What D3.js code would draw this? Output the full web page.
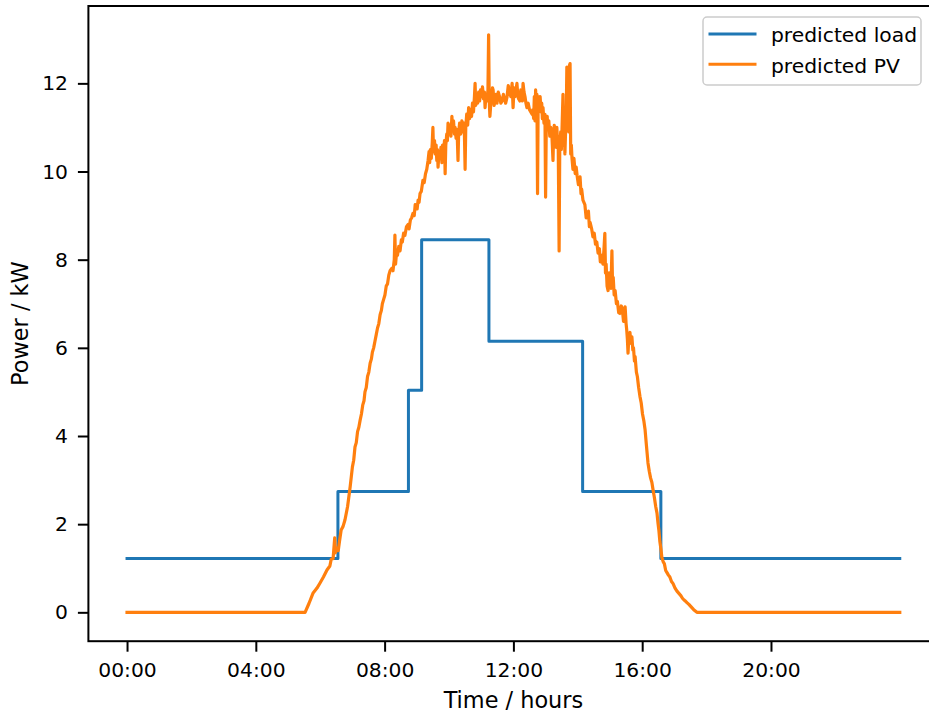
<!DOCTYPE html>
<html>
<head>
<meta charset="utf-8">
<script src="https://cdn.jsdelivr.net/npm/d3@7"></script>
<style>
  html, body { margin: 0; padding: 0; background: #fff; }
  svg { display: block; font-family: "DejaVu Sans", sans-serif; }
</style>
</head>
<body>
<svg id="chart" width="929" height="717"></svg>
<script>
// ---- data ----
const xTickHours = [0, 4, 8, 12, 16, 20];
const xTickLabels = ["00:00", "04:00", "08:00", "12:00", "16:00", "20:00"];
const yTicks = [0, 2, 4, 6, 8, 10, 12];
const seriesNames = ["predicted load", "predicted PV"];
const seriesColors = ["#1f77b4", "#ff7f0e"];

// predicted load (step function, value holds until next hour)
const loadHours = [0, 6.55, 8.74, 9.15, 11.24, 14.15, 16.58, 24];
const loadKW    = [1.22, 2.74, 5.04, 8.45, 6.15, 2.74, 1.22, 1.22];

// predicted PV readings: [hour, kW]
const pvMorning = [
  [0, 0], [5.53, 0], [5.65, 0.20], [5.78, 0.44], [5.90, 0.55], [5.99, 0.66], [6.10, 0.80], [6.21, 0.96], [6.30, 1.05], [6.34, 1.20],
  [6.40, 1.22], [6.45, 1.69], [6.47, 1.35], [6.52, 1.45], [6.56, 1.40], [6.60, 1.62], [6.65, 1.87], [6.71, 1.95], [6.77, 2.10], [6.85, 2.40],
  [6.93, 2.85], [7.00, 3.30], [7.04, 3.45], [7.08, 3.75], [7.12, 3.85], [7.16, 4.10], [7.20, 4.20], [7.24, 4.36], [7.28, 4.50], [7.32, 4.70],
  [7.36, 4.80], [7.39, 5.00], [7.43, 5.10], [7.47, 5.35], [7.51, 5.45], [7.55, 5.65], [7.59, 5.75], [7.62, 5.90], [7.66, 6.00], [7.70, 6.15],
  [7.74, 6.30], [7.78, 6.45], [7.82, 6.55], [7.86, 6.75], [7.90, 6.85], [7.93, 7.00], [7.97, 7.10], [8.01, 7.20], [8.05, 7.40], [8.09, 7.45],
  [8.13, 7.65], [8.17, 7.75], [8.22, 7.80], [8.26, 7.75], [8.30, 8.00], [8.32, 8.56], [8.34, 7.90], [8.37, 8.15], [8.40, 8.10], [8.44, 8.30],
  [8.48, 8.20], [8.52, 8.45], [8.55, 8.40], [8.59, 8.60], [8.63, 8.55], [8.68, 8.75], [8.73, 8.80], [8.76, 8.70], [8.80, 8.90], [8.84, 8.95],
  [8.88, 9.05], [8.92, 9.00], [8.95, 9.25], [8.98, 9.15], [9.01, 9.15], [9.04, 9.35], [9.07, 9.30], [9.10, 9.50], [9.14, 9.55], [9.19, 9.80],
  [9.23, 9.75], [9.27, 9.95], [9.31, 10.05]
];
const pvLateMorning = [
  [9.35, 10.25], [9.38, 10.45], [9.40, 10.20], [9.42, 10.50], [9.45, 10.30], [9.48, 10.65], [9.50, 11.00], [9.52, 10.45], [9.55, 10.70], [9.57, 10.40],
  [9.60, 10.60], [9.62, 10.25], [9.64, 10.50], [9.66, 10.10], [9.69, 10.45], [9.72, 10.30], [9.75, 10.55], [9.78, 10.20], [9.80, 10.60], [9.83, 10.40],
  [9.86, 10.70], [9.88, 9.95], [9.90, 10.60], [9.93, 10.85], [9.95, 10.70], [9.97, 11.10], [10.00, 10.85], [10.03, 11.05], [10.06, 10.80], [10.09, 11.25],
  [10.11, 10.95], [10.14, 11.15], [10.17, 10.85], [10.19, 11.00], [10.22, 10.75], [10.25, 10.95], [10.28, 10.25], [10.30, 10.90], [10.33, 11.10], [10.36, 10.85],
  [10.40, 11.15], [10.43, 10.90], [10.46, 11.10], [10.48, 10.80], [10.50, 10.05], [10.52, 11.00], [10.55, 11.30], [10.58, 11.05], [10.61, 11.45], [10.64, 11.20],
  [10.67, 11.40], [10.70, 11.25], [10.73, 11.55], [10.76, 11.35], [10.79, 11.70], [10.81, 12.00], [10.83, 11.50], [10.86, 11.75], [10.89, 11.55], [10.92, 11.80],
  [10.95, 11.60], [10.98, 11.85], [11.01, 11.70], [11.04, 11.92], [11.07, 11.65], [11.10, 11.80], [11.12, 11.45], [11.15, 11.75], [11.18, 11.60], [11.21, 11.85],
  [11.23, 13.10], [11.25, 11.60], [11.27, 11.25]
];
const pvMidday = [
  [11.30, 11.55], [11.32, 11.60], [11.35, 11.90], [11.37, 11.85], [11.40, 11.50], [11.43, 11.60], [11.46, 11.75], [11.49, 11.55], [11.53, 11.80], [11.57, 11.70],
  [11.61, 11.55], [11.65, 11.60], [11.69, 11.75], [11.72, 11.65], [11.76, 11.55], [11.80, 11.68], [11.84, 11.95], [11.88, 11.80], [11.92, 11.70], [11.96, 12.00],
  [11.99, 11.45], [12.02, 11.90], [12.05, 11.70], [12.08, 11.85], [12.11, 12.00], [12.14, 11.70], [12.16, 11.65], [12.20, 11.60], [12.23, 11.85], [12.25, 11.75],
  [12.28, 11.60], [12.30, 12.00], [12.33, 11.80], [12.36, 11.70], [12.39, 11.55], [12.42, 11.45], [12.46, 11.55], [12.50, 11.40], [12.54, 11.35], [12.58, 11.30],
  [12.60, 11.40]
];
const pvEarlyAfternoon = [
  [12.63, 11.20], [12.65, 11.70], [12.67, 11.15], [12.69, 11.85], [12.71, 11.50], [12.73, 11.75], [12.75, 9.50], [12.77, 11.70], [12.80, 11.40], [12.83, 11.70],
  [12.86, 11.35], [12.88, 11.55], [12.90, 11.20], [12.92, 11.45], [12.95, 11.10], [12.98, 11.30], [13.00, 9.42], [13.02, 11.00], [13.05, 11.25], [13.07, 10.95],
  [13.10, 11.15], [13.13, 10.80], [13.16, 11.00], [13.20, 10.75], [13.23, 10.25], [13.25, 10.90], [13.27, 11.05], [13.29, 10.60], [13.31, 10.90], [13.33, 10.55],
  [13.35, 11.00], [13.37, 10.65], [13.39, 10.80], [13.42, 8.20], [13.44, 10.60], [13.47, 10.90], [13.49, 10.50], [13.51, 10.95], [13.54, 11.75], [13.56, 10.60],
  [13.58, 11.00], [13.60, 10.40], [13.62, 10.90], [13.64, 11.20], [13.66, 12.37], [13.68, 11.00], [13.70, 11.60], [13.72, 10.90], [13.74, 12.40], [13.76, 12.45],
  [13.78, 10.40], [13.80, 10.60], [13.82, 10.30], [13.85, 10.05], [13.88, 10.30], [13.92, 9.95], [13.95, 10.10], [13.98, 9.90], [14.02, 9.70], [14.07, 9.88],
  [14.10, 9.50], [14.12, 9.60], [14.16, 9.35]
];
const pvAfternoon = [
  [14.22, 9.25], [14.26, 8.95], [14.29, 9.05], [14.33, 9.10], [14.36, 8.75], [14.38, 8.85], [14.43, 8.70], [14.47, 8.52], [14.51, 8.60], [14.55, 8.35],
  [14.59, 8.40], [14.63, 8.15], [14.67, 8.25], [14.70, 7.95], [14.74, 8.10], [14.78, 7.90], [14.81, 8.20], [14.84, 8.60], [14.86, 7.70], [14.88, 7.90],
  [14.91, 7.40], [14.94, 7.30], [14.97, 7.70], [15.00, 7.60], [15.03, 7.35], [15.06, 8.20], [15.08, 7.40], [15.10, 7.60], [15.13, 7.20], [15.16, 7.30],
  [15.20, 7.00], [15.23, 7.05], [15.27, 6.80], [15.31, 6.78], [15.35, 6.95], [15.38, 6.90], [15.42, 6.60], [15.47, 6.93], [15.50, 6.55], [15.52, 6.40],
  [15.54, 6.20], [15.56, 5.88], [15.59, 6.30], [15.62, 6.35], [15.65, 6.10], [15.68, 6.25], [15.71, 5.95], [15.73, 6.00], [15.76, 5.70], [15.78, 5.80],
  [15.82, 5.45], [15.85, 5.35], [15.89, 5.10], [15.93, 4.90], [15.97, 4.75], [16.01, 4.50], [16.05, 4.35], [16.09, 4.14]
];
const pvEvening = [
  [16.13, 3.80], [16.18, 3.39], [16.22, 3.20], [16.26, 3.05], [16.30, 2.95], [16.34, 2.77], [16.38, 2.60], [16.42, 2.40], [16.46, 2.25], [16.49, 2.03],
  [16.52, 1.85], [16.55, 1.60], [16.58, 1.45], [16.61, 1.25], [16.65, 1.15], [16.69, 1.10], [16.73, 0.95], [16.77, 0.90], [16.81, 0.85], [16.86, 0.80],
  [16.91, 0.70], [16.96, 0.65], [17.02, 0.55], [17.08, 0.48], [17.14, 0.43], [17.20, 0.38], [17.25, 0.32], [17.30, 0.28], [17.35, 0.25], [17.39, 0.22],
  [17.45, 0.18], [17.50, 0.14], [17.55, 0.10], [17.60, 0.06], [17.65, 0.03], [17.70, 0], [24, 0]
];

// ---- chart ----
const svg = d3.select("#chart");
const plotLeft = 88.4, plotRight = 938.4, plotTop = 6.0, plotBottom = 641.2;

const x = d3.scaleLinear().domain([-1.2, 25.2]).range([plotLeft, plotRight]);
const y = d3.scaleLinear().domain([-0.655, 13.755]).range([plotBottom, plotTop]);

const tickFont = 20.3;

// lines
const loadData = loadHours.map((h, i) => [h, loadKW[i]]);
const pvData = [].concat(pvMorning, pvLateMorning, pvMidday, pvEarlyAfternoon, pvAfternoon, pvEvening);

const loadLine = d3.line().x(d => x(d[0])).y(d => y(d[1])).curve(d3.curveStepAfter);
const pvLine = d3.line().x(d => x(d[0])).y(d => y(d[1]));

svg.append("path").datum(loadData).attr("d", loadLine)
  .attr("fill", "none").attr("stroke", seriesColors[0]).attr("stroke-width", 3)
  .attr("stroke-linejoin", "round").attr("stroke-linecap", "square");
svg.append("path").datum(pvData).attr("d", pvLine)
  .attr("fill", "none").attr("stroke", seriesColors[1]).attr("stroke-width", 3.2)
  .attr("stroke-linejoin", "round").attr("stroke-linecap", "square");

// frame
svg.append("rect").attr("x", plotLeft).attr("y", plotTop)
  .attr("width", plotRight - plotLeft).attr("height", plotBottom - plotTop)
  .attr("fill", "none").attr("stroke", "#000").attr("stroke-width", 2);

// x axis
const xAxis = d3.axisBottom(x).tickValues(xTickHours)
  .tickFormat((d, i) => xTickLabels[i]).tickSize(10.5).tickSizeOuter(0).tickPadding(10.7);
const gx = svg.append("g").attr("transform", `translate(0,${plotBottom})`).call(xAxis);
gx.select(".domain").remove();
gx.selectAll(".tick line").attr("stroke", "#000").attr("stroke-width", 2);
gx.selectAll(".tick text").attr("font-size", tickFont).attr("fill", "#000")
  .attr("font-family", "DejaVu Sans, sans-serif");

// y axis
const yAxis = d3.axisLeft(y).tickValues(yTicks).tickFormat(d3.format("d"))
  .tickSize(10.5).tickSizeOuter(0).tickPadding(9.9);
const gy = svg.append("g").attr("transform", `translate(${plotLeft},0)`).call(yAxis);
gy.select(".domain").remove();
gy.selectAll(".tick line").attr("stroke", "#000").attr("stroke-width", 2);
gy.selectAll(".tick text").attr("font-size", tickFont).attr("fill", "#000")
  .attr("font-family", "DejaVu Sans, sans-serif");

// axis labels
svg.append("text").attr("x", (plotLeft + plotRight) / 2).attr("y", 708)
  .attr("text-anchor", "middle").attr("font-size", 22.4).attr("fill", "#000")
  .text("Time / hours");
svg.append("text").attr("transform", `translate(28,${(plotTop + plotBottom) / 2}) rotate(-90)`)
  .attr("text-anchor", "middle").attr("font-size", 22.4).attr("fill", "#000")
  .text("Power / kW");

// legend
const lg = svg.append("g");
lg.append("rect").attr("x", 703).attr("y", 17).attr("width", 218).attr("height", 68)
  .attr("rx", 4).attr("fill", "#fff").attr("fill-opacity", 0.8)
  .attr("stroke", "#cccccc").attr("stroke-width", 1.5);
seriesNames.forEach((name, i) => {
  const cy = 34 + i * 30.3;
  lg.append("line").attr("x1", 710).attr("x2", 755).attr("y1", cy).attr("y2", cy)
    .attr("stroke", seriesColors[i]).attr("stroke-width", 3).attr("stroke-linecap", "square");
  lg.append("text").attr("x", 771).attr("y", cy + 8.3).attr("font-size", tickFont)
    .attr("fill", "#000").text(name);
});
</script>
</body>
</html>
